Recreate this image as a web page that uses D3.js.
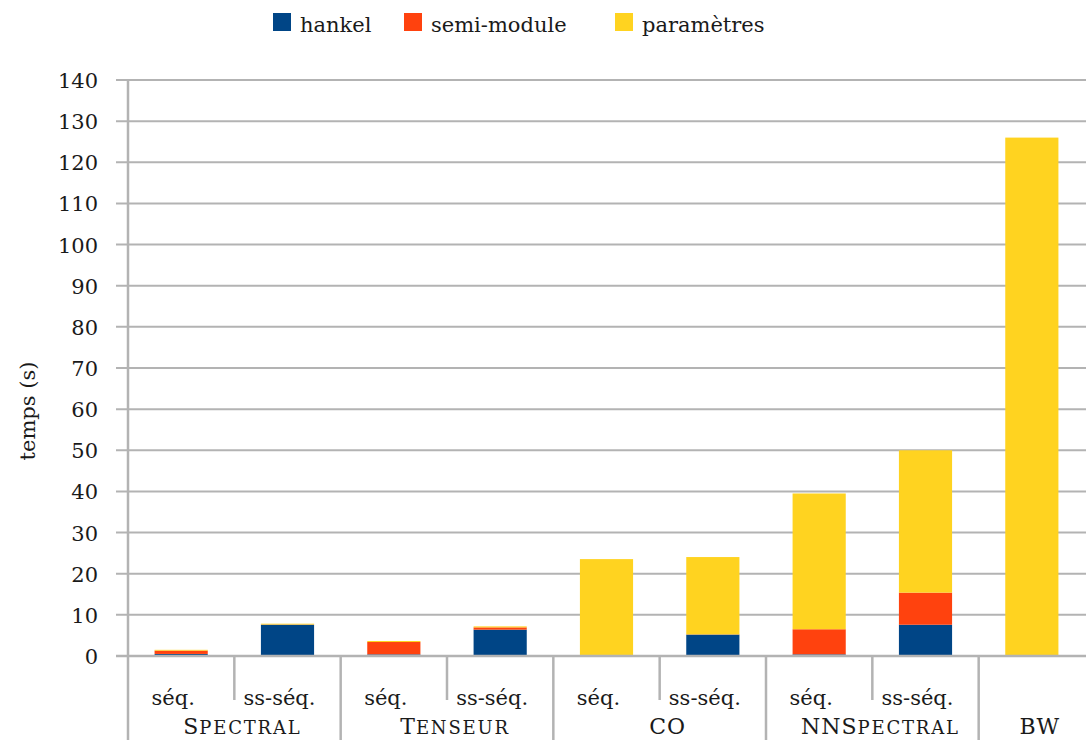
<!DOCTYPE html>
<html><head><meta charset="utf-8">
<script src="https://cdn.jsdelivr.net/npm/d3@7"></script>
</head><body style="margin:0;background:#fff">
<svg id="c" width="1086" height="740" style="display:block" font-family="'DejaVu Serif', serif"></svg>
<script>
const subLabels = ["séq.","ss-séq.","séq.","ss-séq.","séq.","ss-séq.","séq.","ss-séq.",""];
const groups = ["Spectral","Tenseur","CO","NNSpectral","BW"];
const groupSpan = [2,2,2,2,1];
const seriesNames = ["hankel","semi-module","paramètres"];
const hankel     = [0.5, 7.6, 0.4, 6.4, 0.2, 5.2, 0.4, 7.6, 0];
const semiModule = [0.8, 0.05, 3.0, 0.55, 0.05, 0.05, 6.1, 7.8, 0];
const parametres = [0.2, 0.2, 0.25, 0.25, 23.3, 18.8, 33.0, 34.6, 126];
const yTicks = d3.range(0, 141, 10);
const colors = ["#004586","#ff420e","#ffd320"];

const FONT = "'DejaVu Serif', serif";
const svg = d3.select("#c");
const grid = "#b3b3b3";
const keys = subLabels.map((d,i)=>i);
const x = d3.scaleBand().domain(keys).range([128,1085]).padding(0);
const y = d3.scaleLinear().domain([0,140]).range([656,80]);

function txt(sel){ return sel.attr("font-family",FONT).style("font-family",FONT).attr("fill","#1a1a1a"); }

// gridlines
svg.append("g").selectAll("line").data(yTicks).join("line")
  .attr("x1",116).attr("x2",1086).attr("y1",d=>y(d)).attr("y2",d=>y(d))
  .attr("stroke",grid).attr("stroke-width",2);

// y axis
const yAxis = svg.append("g").attr("transform","translate(128,0)")
  .call(d3.axisLeft(y).tickValues(yTicks).tickSize(0).tickPadding(30));
yAxis.attr("font-family",FONT).attr("font-size",21);
yAxis.select(".domain").remove();
txt(yAxis.selectAll("text")).style("font-size","21px").attr("dy","0.36em");
svg.append("line").attr("x1",128).attr("x2",128).attr("y1",80).attr("y2",740).attr("stroke",grid).attr("stroke-width",2.5);

// bars
const table = keys.map(i=>({i, h:hankel[i], s:semiModule[i], p:parametres[i]}));
const stack = d3.stack().keys(["h","s","p"])(table);
const bw = x.bandwidth()*0.5;
svg.append("g").selectAll("g").data(stack).join("g").attr("fill",(d,i)=>colors[i])
  .selectAll("rect").data(d=>d).join("rect")
  .attr("x",d=>x(d.data.i)+(x.bandwidth()-bw)/2).attr("width",bw)
  .attr("y",d=>y(d[1])).attr("height",d=>Math.max(0,y(d[0])-y(d[1])));

// x axis line
svg.append("line").attr("x1",116).attr("x2",1086).attr("y1",656).attr("y2",656).attr("stroke",grid).attr("stroke-width",2.5);

// dividers
let idx=0; const groupStarts=[];
groupSpan.forEach(n=>{groupStarts.push(idx); idx+=n;});
keys.forEach(i=>{
  if(i===0) return;
  const isGroup = groupStarts.includes(i);
  svg.append("line").attr("x1",x(i)).attr("x2",x(i)).attr("y1",656).attr("y2",isGroup?740:700)
    .attr("stroke",grid).attr("stroke-width",2.5);
});

// sub labels
txt(svg.append("g").selectAll("text").data(keys).join("text"))
  .attr("x",i=>x(i)+x.bandwidth()/2-8).attr("y",705).attr("text-anchor","middle")
  .style("font-size","21px").text(i=>subLabels[i]);

// group labels with small caps
groups.forEach((g,gi)=>{
  const s = groupStarts[gi], n = groupSpan[gi];
  const cx = x(s) + n*x.bandwidth()/2 + 8;
  const t = txt(svg.append("text")).attr("x",cx).attr("y",734).attr("text-anchor","middle").style("font-size","22px");
  const parts = g.match(/[A-Z]+|[a-z]+/g);
  parts.forEach(p=>{
    if(/[A-Z]/.test(p)) t.append("tspan").style("letter-spacing","1px").text(p);
    else t.append("tspan").style("font-size","18px").style("letter-spacing","1.8px").text(p.toUpperCase());
  });
});

// y title
txt(svg.append("text")).attr("transform","translate(35,411) rotate(-90)").attr("text-anchor","middle")
  .style("font-size","21px").text("temps (s)");

// legend
const legX = [273, 404, 615];
seriesNames.forEach((n,i)=>{
  svg.append("rect").attr("x",legX[i]).attr("y",13).attr("width",18).attr("height",18).attr("fill",colors[i]);
  txt(svg.append("text")).attr("x",legX[i]+27).attr("y",32).style("font-size","21px").text(n);
});
</script>
</body></html>
